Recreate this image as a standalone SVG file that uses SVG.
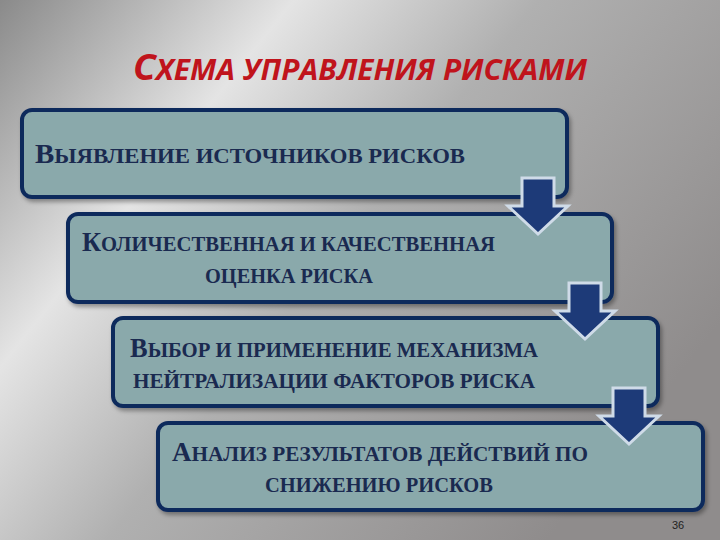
<svg xmlns="http://www.w3.org/2000/svg" width="720" height="540" viewBox="0 0 720 540">
<defs>
<linearGradient id="bg" x1="0" y1="0" x2="1" y2="0.6">
<stop offset="0" stop-color="#8a8a8a"/>
<stop offset="0.3" stop-color="#e4e4e4"/>
<stop offset="0.55" stop-color="#b0b0b0"/>
<stop offset="1" stop-color="#8f8c8c"/>
</linearGradient>
<filter id="sh" x="-5%" y="-5%" width="115%" height="130%"><feDropShadow dx="2" dy="3" stdDeviation="2" flood-color="#000" flood-opacity="0.35"/></filter>
<path id="arr" d="M-16,-28 H16 V0 H30 L0,28 L-30,0 H-16 Z"/>
</defs>
<style>
.box{fill:#8aa9ab;stroke:#0f2a5c;stroke-width:4}
.t{font-family:"Liberation Serif",serif;font-weight:bold;fill:#1a2a50;font-size:22px}
.b{font-size:28px}
.a{fill:#1d3a78;stroke:#cfdbe8;stroke-width:3}
</style>
<rect width="720" height="540" fill="url(#bg)"/>
<text x="133" y="80" font-family="Open Sans,sans-serif" font-style="italic" font-weight="bold" font-size="35" fill="#c0141c" textLength="454" lengthAdjust="spacingAndGlyphs">С<tspan font-size="28">ХЕМА УПРАВЛЕНИЯ РИСКАМИ</tspan></text>
<g id="n1"><rect class="box" x="22" y="110" width="545" height="87" rx="10" filter="url(#sh)"/>
<text class="t" x="35" y="163" textLength="430" lengthAdjust="spacingAndGlyphs"><tspan class="b">В</tspan>ЫЯВЛЕНИЕ ИСТОЧНИКОВ РИСКОВ</text></g>
<g id="n2"><rect class="box" x="68" y="214" width="544" height="88" rx="10" filter="url(#sh)"/>
<text class="t" x="82" y="251" textLength="413" lengthAdjust="spacingAndGlyphs"><tspan class="b">К</tspan>ОЛИЧЕСТВЕННАЯ И КАЧЕСТВЕННАЯ</text>
<text class="t" x="205" y="283" textLength="168" lengthAdjust="spacingAndGlyphs">ОЦЕНКА РИСКА</text></g>
<g id="n3"><rect class="box" x="113" y="318" width="545" height="88" rx="10" filter="url(#sh)"/>
<text class="t" x="130" y="357" textLength="408" lengthAdjust="spacingAndGlyphs"><tspan class="b">В</tspan>ЫБОР И ПРИМЕНЕНИЕ МЕХАНИЗМА</text>
<text class="t" x="133" y="388" textLength="402" lengthAdjust="spacingAndGlyphs">НЕЙТРАЛИЗАЦИИ ФАКТОРОВ РИСКА</text></g>
<g id="n4"><rect class="box" x="158" y="423" width="545" height="87" rx="10" filter="url(#sh)"/>
<text class="t" x="172" y="461" textLength="416" lengthAdjust="spacingAndGlyphs"><tspan class="b">А</tspan>НАЛИЗ РЕЗУЛЬТАТОВ ДЕЙСТВИЙ ПО</text>
<text class="t" x="265" y="492" textLength="228" lengthAdjust="spacingAndGlyphs">СНИЖЕНИЮ РИСКОВ</text></g>
<g id="connectors">
<use href="#arr" class="a" transform="translate(538,206)"/>
<use href="#arr" class="a" transform="translate(585,311)"/>
<use href="#arr" class="a" transform="translate(629,416)"/>
</g>
<text x="672" y="529" font-family="Liberation Sans,sans-serif" font-size="11" fill="#222">36</text>
</svg>
